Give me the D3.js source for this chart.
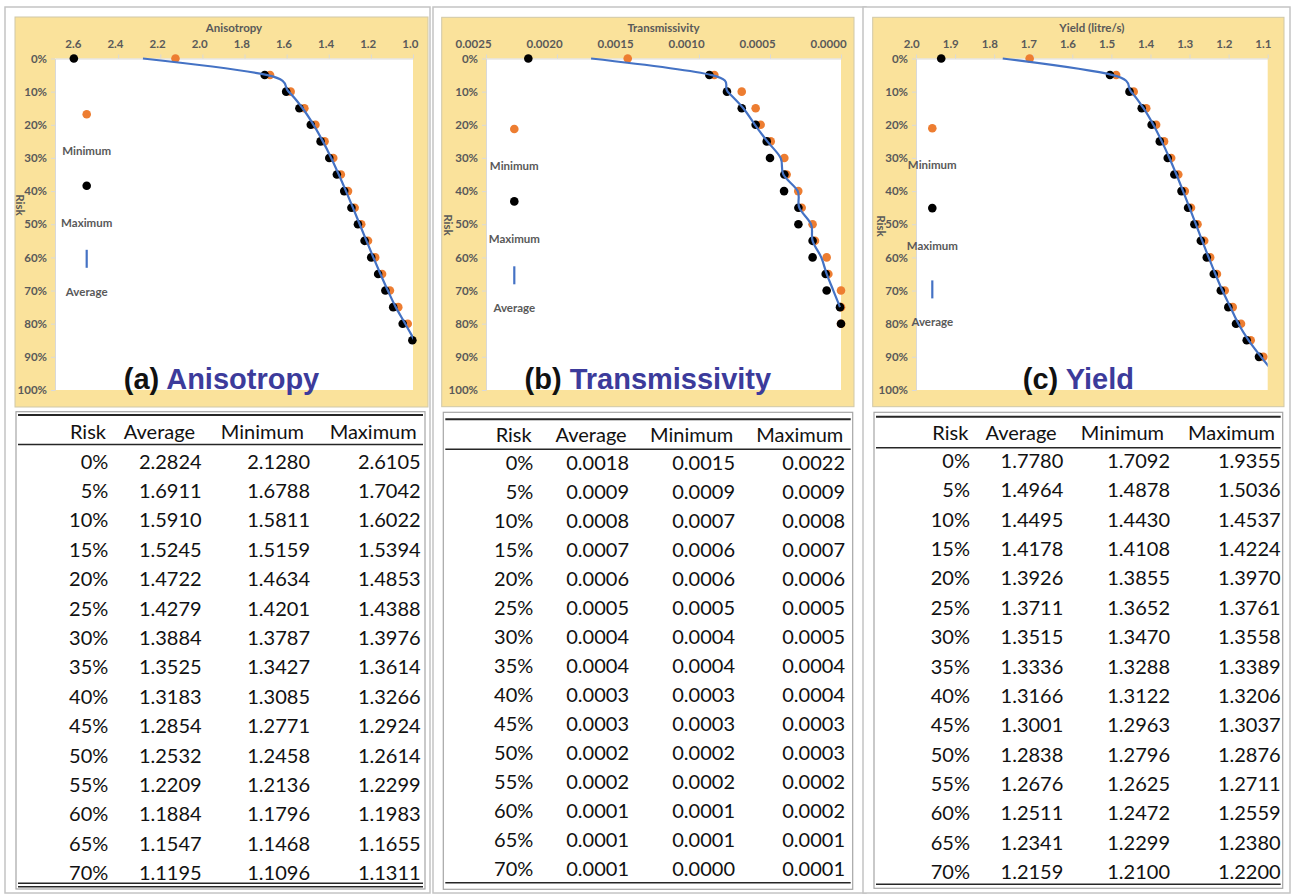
<!DOCTYPE html>
<html>
<head>
<meta charset="utf-8">
<script src="https://cdn.jsdelivr.net/npm/d3@7"></script>
<style>
  body { margin: 0; background: #ffffff; }
  svg { display: block; }
</style>
</head>
<body>
<svg id="fig" width="1292" height="895"></svg>
<script>
// ---------- data ----------
const tableHeader = ["Risk", "Average", "Minimum", "Maximum"];
const tableRows = 15; // table lists risk 0% .. 70%

// (a) Anisotropy
const anisoRisk    = [0, 5, 10, 15, 20, 25, 30, 35, 40, 45, 50, 55, 60, 65, 70, 75, 80, 85];
const anisoAverage = [2.2824, 1.6911, 1.5910, 1.5245, 1.4722, 1.4279, 1.3884, 1.3525, 1.3183, 1.2854, 1.2532, 1.2209, 1.1884, 1.1547, 1.1195, 1.082, 1.037, 0.993];
const anisoMinimum = [2.1280, 1.6788, 1.5811, 1.5159, 1.4634, 1.4201, 1.3787, 1.3427, 1.3085, 1.2771, 1.2458, 1.2136, 1.1796, 1.1468, 1.1096, 1.070, 1.025, null];
const anisoMaximum = [2.6105, 1.7042, 1.6022, 1.5394, 1.4853, 1.4388, 1.3976, 1.3614, 1.3266, 1.2924, 1.2614, 1.2299, 1.1983, 1.1655, 1.1311, 1.094, 1.049, 1.003];
const anisoTicks   = [2.6, 2.4, 2.2, 2.0, 1.8, 1.6, 1.4, 1.2, 1.0];

// (b) Transmissivity
const transRisk    = [0, 5, 10, 15, 20, 25, 30, 35, 40, 45, 50, 55, 60, 65, 70, 75, 80];
const transAverage = [0.00176, 0.00091, 0.000798, 0.000688, 0.000606, 0.000519, 0.000425, 0.000406, 0.000305, 0.000294, 0.000211, 0.000200, 0.000139, 0.000101, 0.000054, 0.000007, null];
const transMinimum = [0.001502, 0.000892, 0.000699, 0.000601, 0.000566, 0.000495, 0.000399, 0.000383, 0.000301, 0.000277, 0.000200, 0.000183, 0.000101, 0.000089, 0.0, 0.0, 0.0];
const transMaximum = [0.002202, 0.000927, 0.000803, 0.000699, 0.000601, 0.000523, 0.000500, 0.000399, 0.000401, 0.000300, 0.000300, 0.000200, 0.000200, 0.000108, 0.000101, 0.000007, 0.0];
const transTicks   = [0.0025, 0.0020, 0.0015, 0.0010, 0.0005, 0.0000];

// (c) Yield
const yieldRisk    = [0, 5, 10, 15, 20, 25, 30, 35, 40, 45, 50, 55, 60, 65, 70, 75, 80, 85, 90, 95];
const yieldAverage = [1.7780, 1.4964, 1.4495, 1.4178, 1.3926, 1.3711, 1.3515, 1.3336, 1.3166, 1.3001, 1.2838, 1.2676, 1.2511, 1.2341, 1.2159, 1.1955, 1.1750, 1.1488, 1.1170, 1.083];
const yieldMinimum = [1.7092, 1.4878, 1.4430, 1.4108, 1.3855, 1.3652, 1.3470, 1.3288, 1.3122, 1.2963, 1.2796, 1.2625, 1.2472, 1.2299, 1.2100, 1.1896, 1.1683, 1.1435, 1.1113, null];
const yieldMaximum = [1.9355, 1.5036, 1.4537, 1.4224, 1.3970, 1.3761, 1.3558, 1.3389, 1.3206, 1.3037, 1.2876, 1.2711, 1.2559, 1.2380, 1.2200, 1.2008, 1.1811, 1.1537, 1.1223, null];
const yieldTicks   = [2.0, 1.9, 1.8, 1.7, 1.6, 1.5, 1.4, 1.3, 1.2, 1.1];

const riskTicks = [0, 10, 20, 30, 40, 50, 60, 70, 80, 90, 100];

// ---------- styling ----------
const COL_MIN = "#ed7d31";
const COL_MAX = "#000000";
const COL_AVG = "#4472c4";
const COL_PANEL = "#fae29b";
const COL_AXIS_TEXT = "#595959";
const COL_TITLE = "#3c3b9b";
const AXIS_FONT = "Lato, 'DejaVu Sans', sans-serif";
const AXIS_SIZE = 11.5;
const TABLE_FONT = "Lato, 'Open Sans', sans-serif";
const TITLE_FONT = "'Liberation Sans', Arial, sans-serif";
const DOT_R = 4.3;

// ---------- panel layout ----------
const panels = [
  {
    letter: "(a)", name: "Anisotropy", axisTitle: "Anisotropy",
    risk: anisoRisk, avg: anisoAverage, min: anisoMinimum, max: anisoMaximum,
    domain: [1.0, 2.7], ticks: anisoTicks, fmt: d3.format(".1f"), labelShift: 0.2,
    frame: [5, 7, 430, 893],
    panel: [15, 17, 428, 407],
    plot: [55, 58.5, 413, 390],
    riskTitle: [20, 205],
    legend: { x: 86.7, y: 114.3, step: 71.5 },
    table: { box: [16, 411.7, 425, 889], top: 415, headBase: 438.5, headRule: 444.5,
             firstBase: 468.5, step: 29.4, bottom: [883.3, 886.7],
             head: [106, 195, 304, 416.7], cols: [108.3, 201.7, 310, 420.7] }
  },
  {
    letter: "(b)", name: "Transmissivity", axisTitle: "Transmissivity",
    risk: transRisk, avg: transAverage, min: transMinimum, max: transMaximum,
    domain: [0, 0.0025], ticks: transTicks, fmt: d3.format(".4f"), labelShift: 0.36,
    frame: [433, 7, 866, 893],
    panel: [441.7, 17.3, 854, 406.7],
    plot: [486, 58.5, 841, 390],
    riskTitle: [448.3, 225],
    legend: { x: 514.3, y: 129, step: 72.4 },
    table: { box: [443.3, 412.3, 852.7, 889.3], top: 419.3, headBase: 441.7, headRule: 449.3,
             firstBase: 470, step: 29, bottom: [882.7],
             head: [531.7, 626.7, 733.3, 843.3], cols: [533.3, 629, 735, 845] }
  },
  {
    letter: "(c)", name: "Yield", axisTitle: "Yield (litre/s)",
    risk: yieldRisk, avg: yieldAverage, min: yieldMinimum, max: yieldMaximum,
    domain: [1.1, 2.0], ticks: yieldTicks, fmt: d3.format(".1f"), labelShift: 0.3,
    frame: [863, 7, 1290, 893],
    panel: [872.7, 17.3, 1284, 406.7],
    plot: [916, 58.5, 1267.7, 390],
    riskTitle: [880.7, 226],
    legend: { x: 932.3, y: 128.3, step: 79.8 },
    table: { box: [874, 412.3, 1282.7, 888.3], top: 416.7, headBase: 440, headRule: 447.7,
             firstBase: 468, step: 29.36, bottom: [884.3],
             head: [968.3, 1056.7, 1164, 1275], cols: [970, 1063.3, 1170, 1280.7] }
  }
];

const svg = d3.select("#fig");
const defs = svg.append("defs");

const axisText = sel => sel
  .attr("font-family", AXIS_FONT).attr("font-weight", 700).attr("font-size", AXIS_SIZE)
  .attr("fill", COL_AXIS_TEXT);

panels.forEach((p, i) => {
  const g = svg.append("g").attr("class", "panel-" + i);

  // outer frame of the column
  g.append("rect")
    .attr("x", p.frame[0]).attr("y", p.frame[1])
    .attr("width", p.frame[2] - p.frame[0]).attr("height", p.frame[3] - p.frame[1])
    .attr("fill", "#ffffff").attr("stroke", "#c4c4c4").attr("stroke-width", 1.5);

  // chart background
  g.append("rect")
    .attr("x", p.panel[0]).attr("y", p.panel[1])
    .attr("width", p.panel[2] - p.panel[0]).attr("height", p.panel[3] - p.panel[1])
    .attr("fill", COL_PANEL).attr("stroke", "#d0c8a8").attr("stroke-width", 1);

  const [px0, py0, px1, py1] = p.plot;
  g.append("rect")
    .attr("x", px0).attr("y", py0).attr("width", px1 - px0).attr("height", py1 - py0)
    .attr("fill", "#ffffff");

  // reversed value axis across the top, risk axis down the left
  const x = d3.scaleLinear().domain(p.domain).range([px1, px0]);
  const y = d3.scaleLinear().domain([0, 100]).range([py0, py1]);

  // top axis
  const xAxis = d3.axisTop(x).tickValues(p.ticks).tickFormat(p.fmt).tickSize(4).tickSizeOuter(0);
  const gx = g.append("g").attr("transform", `translate(0,${py0})`).call(xAxis);
  gx.select(".domain").attr("stroke", "#d9d9d9");
  gx.selectAll(".tick line").attr("stroke", "#d9d9d9");
  gx.selectAll(".tick text").call(axisText).attr("y", -11)
    .each(function () {
      const w = this.getComputedTextLength();
      d3.select(this).attr("x", -w * p.labelShift);
    });

  // left axis
  const yAxis = d3.axisLeft(y).tickValues(riskTicks).tickFormat(d => d + "%").tickSize(4).tickSizeOuter(0);
  const gy = g.append("g").attr("transform", `translate(${px0},0)`).call(yAxis);
  gy.select(".domain").attr("stroke", "#d9d9d9");
  gy.selectAll(".tick line").attr("stroke", "#d9d9d9");
  gy.selectAll(".tick text").call(axisText).attr("x", -8);

  // axis titles
  g.append("text")
    .attr("x", (px0 + px1) / 2).attr("y", 32)
    .attr("text-anchor", "middle").call(axisText).text(p.axisTitle);
  g.append("text")
    .attr("transform", `translate(${p.riskTitle[0]},${p.riskTitle[1]}) rotate(90)`)
    .attr("text-anchor", "middle").attr("dy", "0.35em").call(axisText).text("Risk");

  // series
  const inDomain = v => v != null && v >= p.domain[0] - 1e-12 && v <= p.domain[1] + 1e-12;
  const minPts = p.risk.map((r, k) => ({ r, v: p.min[k] })).filter(d => inDomain(d.v));
  const maxPts = p.risk.map((r, k) => ({ r, v: p.max[k] })).filter(d => inDomain(d.v));
  const avgPts = p.risk.map((r, k) => ({ r, v: p.avg[k] })).filter(d => d.v != null);

  g.append("g").selectAll("circle").data(minPts).join("circle")
    .attr("cx", d => x(d.v)).attr("cy", d => y(d.r)).attr("r", DOT_R).attr("fill", COL_MIN);
  g.append("g").selectAll("circle").data(maxPts).join("circle")
    .attr("cx", d => x(d.v)).attr("cy", d => y(d.r)).attr("r", DOT_R).attr("fill", COL_MAX);

  const clipId = "plotclip-" + i;
  defs.append("clipPath").attr("id", clipId).append("rect")
    .attr("x", px0).attr("y", py0 - 2).attr("width", px1 - px0).attr("height", py1 - py0 + 2);
  const line = d3.line().x(d => x(d.v)).y(d => y(d.r)).curve(d3.curveCatmullRom.alpha(0));
  g.append("path").datum(avgPts)
    .attr("clip-path", `url(#${clipId})`)
    .attr("d", line).attr("fill", "none")
    .attr("stroke", COL_AVG).attr("stroke-width", 2.2).attr("stroke-linejoin", "round");

  // legend: symbol above each label
  const L = p.legend;
  const legendText = (ty, t) => g.append("text")
    .attr("x", L.x).attr("y", ty).attr("dy", "0.35em").attr("text-anchor", "middle")
    .call(axisText).text(t);
  g.append("circle").attr("cx", L.x).attr("cy", L.y).attr("r", DOT_R).attr("fill", COL_MIN);
  legendText(L.y + 37, "Minimum");
  g.append("circle").attr("cx", L.x).attr("cy", L.y + L.step).attr("r", DOT_R).attr("fill", COL_MAX);
  legendText(L.y + L.step + 37.5, "Maximum");
  const lc = L.y + 2 * L.step + 1.5;
  g.append("line").attr("x1", L.x).attr("x2", L.x).attr("y1", lc - 9).attr("y2", lc + 9)
    .attr("stroke", COL_AVG).attr("stroke-width", 2.2);
  legendText(lc + 33, "Average");

  // panel title
  const title = g.append("text")
    .attr("x", (p.panel[0] + p.panel[2]) / 2).attr("y", 389)
    .attr("text-anchor", "middle")
    .attr("font-family", TITLE_FONT).attr("font-weight", 700).attr("font-size", 29);
  title.append("tspan").attr("fill", "#111111").text(p.letter + " ");
  title.append("tspan").attr("fill", COL_TITLE).text(p.name);

  // ---------- summary table ----------
  const T = p.table;
  g.append("rect")
    .attr("x", T.box[0]).attr("y", T.box[1])
    .attr("width", T.box[2] - T.box[0]).attr("height", T.box[3] - T.box[1])
    .attr("fill", "#ffffff").attr("stroke", "#a6a6a6").attr("stroke-width", 1.2);
  const rule = (yy, w) => g.append("line")
    .attr("x1", T.box[0] + 2).attr("x2", T.box[2] - 2).attr("y1", yy).attr("y2", yy)
    .attr("stroke", "#262626").attr("stroke-width", w);
  rule(T.top, 2);
  rule(T.headRule, 1.5);
  T.bottom.forEach(b => rule(b, 1.5));

  g.append("g").selectAll("text").data(tableHeader).join("text")
    .attr("x", (d, k) => T.head[k]).attr("y", T.headBase)
    .attr("text-anchor", "end")
    .attr("font-family", TABLE_FONT).attr("font-size", 20).attr("fill", "#111111")
    .text(d => d);

  const rows = d3.range(tableRows).map(k => [
    p.risk[k] + "%",
    p.avg[k].toFixed(4),
    p.min[k].toFixed(4),
    p.max[k].toFixed(4)
  ]);
  const rowG = g.append("g").selectAll("g").data(rows).join("g")
    .attr("transform", (d, k) => `translate(0,${T.firstBase + k * T.step})`);
  rowG.selectAll("text").data(d => d).join("text")
    .attr("x", (d, k) => T.cols[k]).attr("y", 0)
    .attr("text-anchor", "end")
    .attr("font-family", TABLE_FONT).attr("font-size", 20).attr("fill", "#111111")
    .text(d => d);
});
</script>
</body>
</html>
